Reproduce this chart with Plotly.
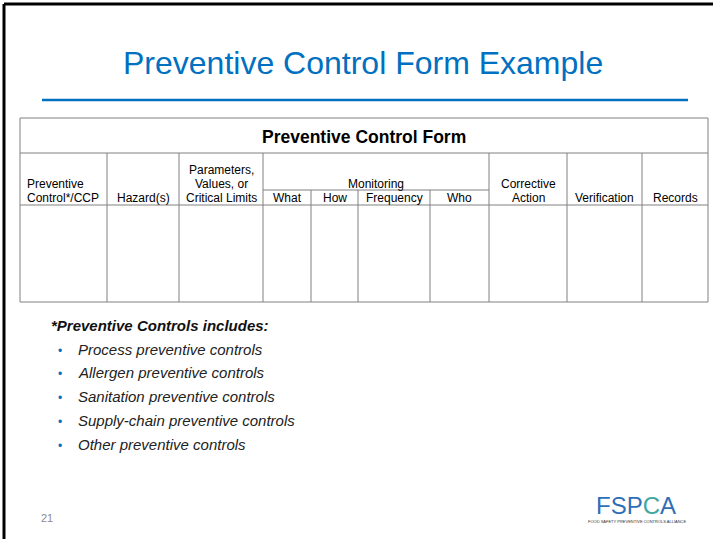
import plotly.graph_objects as go

# ---------------- content ----------------
slide_title = "Preventive Control Form Example"
form_title = "Preventive Control Form"
column_headers = [
    ["Preventive", "Control*/CCP"],
    ["Hazard(s)"],
    ["Parameters,", "Values, or", "Critical Limits"],
    ["What"],
    ["How"],
    ["Frequency"],
    ["Who"],
    ["Corrective", "Action"],
    ["Verification"],
    ["Records"],
]
monitoring_label = "Monitoring"
note_heading = "*Preventive Controls includes:"
bullet_items = [
    "Process preventive controls",
    "Allergen preventive controls",
    "Sanitation preventive controls",
    "Supply-chain preventive controls",
    "Other preventive controls",
]
page_number = "21"

# ---------------- layout constants ----------------
W, H = 713, 539
BLUE = "#0070C0"
GRID = "#808080"
FONT = "Liberation Sans, Arial, sans-serif"
col_x = [20, 107, 179, 263, 311, 358, 430, 489, 567, 642, 708]
t_top, t_head, t_mon, t_colbot, t_bot = 118, 153, 190, 205, 302
mon_first, mon_last = 3, 6

shapes = []
annos = []

def line(x0, y0, x1, y1, color=GRID, w=1):
    shapes.append(dict(type="line", x0=x0, y0=y0, x1=x1, y1=y1,
                       line=dict(color=color, width=w), layer="above"))

def text(x, y, s, size=12, color="#000", xanchor="center", bold=False, italic=False, family=FONT):
    if bold:
        s = f"<b>{s}</b>"
    if italic:
        s = f"<i>{s}</i>"
    annos.append(dict(x=x, y=y, xref="x", yref="y", text=s, showarrow=False,
                      xanchor=xanchor, yanchor="middle",
                      font=dict(size=size, color=color, family=family)))

# slide border (left and top visible)
line(4, 4, 713, 4, "#000", 3)
line(4, 4, 4, 539, "#000", 3)

# title and rule
text(363, 63, slide_title, size=32, color=BLUE)
line(42, 100, 688, 100, BLUE, 2.5)

# table outline
line(col_x[0], t_top, col_x[-1], t_top)
line(col_x[0], t_bot, col_x[-1], t_bot)
line(col_x[0], t_top, col_x[0], t_bot)
line(col_x[-1], t_top, col_x[-1], t_bot)
line(col_x[0], t_head, col_x[-1], t_head)
line(col_x[0], t_colbot, col_x[-1], t_colbot)
line(col_x[mon_first], t_mon, col_x[mon_last + 1], t_mon)
for i in range(1, len(col_x) - 1):
    top = t_mon if mon_first < i <= mon_last else t_head
    line(col_x[i], top, col_x[i], t_bot)

text((col_x[0] + col_x[-1]) / 2, 137, form_title, size=17.5, bold=True)

line_gap = 14
base_y = 198
for i, lines in enumerate(column_headers):
    n = len(lines)
    for j, s in enumerate(lines):
        y = base_y - (n - 1 - j) * line_gap
        if i == 0:
            text(col_x[0] + 5, y, s, size=12, xanchor="left")
        else:
            text((col_x[i] + col_x[i + 1]) / 2, y, s, size=12)
text((col_x[mon_first] + col_x[mon_last + 1]) / 2, 184, monitoring_label, size=12)

# notes
text(49, 325, note_heading, size=15, color="#111", xanchor="left", bold=True, italic=True)
for k, item in enumerate(bullet_items):
    y = 349 + k * 23.8
    text(60, y + 1.5, "•", size=12, color=BLUE)
    text(76, y, item, size=15, color="#222", xanchor="left", italic=True)

# page number
text(47, 518, page_number, size=11, color="#8c8c8c")

# logo (text approximation)
annos.append(dict(x=636, y=505, xref="x", yref="y", showarrow=False,
                  text="<span style='color:#2e6fb7'>FS</span><span style='color:#2e6fb7'>P</span>"
                       "<span style='color:#3fa7a0'>C</span><span style='color:#2e6fb7'>A</span>",
                  xanchor="center", yanchor="middle",
                  font=dict(size=24, family=FONT)))
text(637, 521, "FOOD SAFETY PREVENTIVE CONTROLS ALLIANCE", size=4, color="#333")

fig = go.Figure()
fig.update_layout(
    width=W, height=H,
    margin=dict(l=0, r=0, t=0, b=0),
    paper_bgcolor="white", plot_bgcolor="white",
    xaxis=dict(range=[0, W], visible=False, fixedrange=True),
    yaxis=dict(range=[H, 0], visible=False, fixedrange=True),
    shapes=shapes, annotations=annos, showlegend=False,
)
fig.write_html("out.html", config={"displayModeBar": False},
               post_script="document.body.style.margin='0';document.body.style.overflow='hidden';")
